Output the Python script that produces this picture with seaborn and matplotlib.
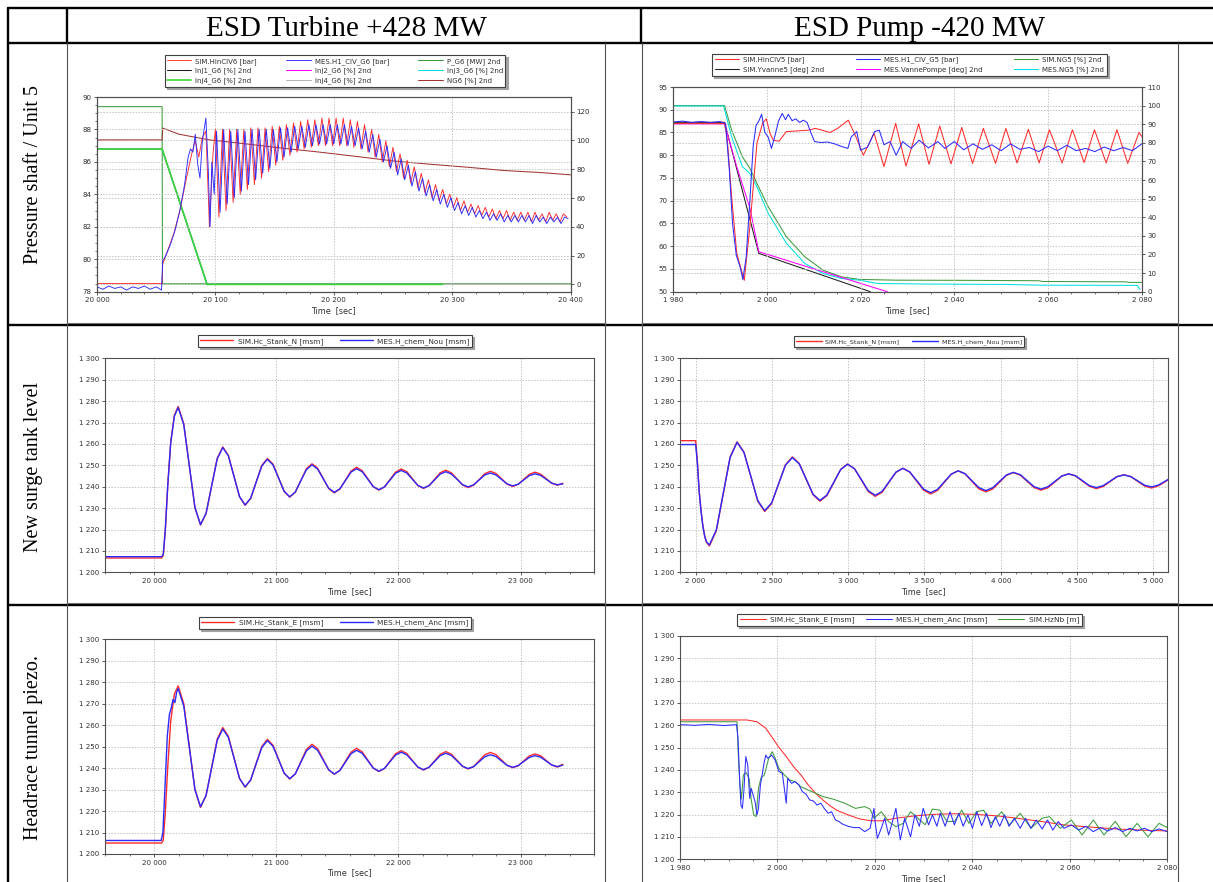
import numpy as np
import matplotlib
matplotlib.use("Agg")
import matplotlib.pyplot as plt
import seaborn as sns
from matplotlib.lines import Line2D
from matplotlib.ticker import FuncFormatter, MultipleLocator

# ---------------- data ----------------

# ESD turbine +428 MW, pressure shaft (left axis [bar], right axis "2nd")
turb_hin_sim_head = [(20000, 78.5), (20055, 78.5), (20055.5, 79.7), (20060, 80.6), (20065, 81.6),
                     (20070, 83.0), (20075, 84.8), (20080, 86.5), (20083, 87.3), (20086, 86.3),
                     (20089, 87.5), (20092, 87.9), (20095, 82.0), (20098, 86.5)]
# peaks / troughs every 3 s from 20100 s
turb_hin_sim_osc = [88.0, 82.6, 88.0, 83.0, 88.0, 83.5, 88.0, 84.0, 88.0, 84.3,
                    88.1, 84.6, 88.1, 85.0, 88.1, 85.4, 88.2, 85.8, 88.2, 86.1,
                    88.3, 86.4, 88.4, 86.6, 88.5, 86.8, 88.6, 86.9, 88.6, 87.0,
                    88.7, 87.0, 88.7, 87.0, 88.7, 87.0, 88.7, 87.0, 88.6, 86.9,
                    88.5, 86.8, 88.3, 86.6, 88.0, 86.3, 87.7, 86.0, 87.3, 85.7,
                    86.9, 85.4, 86.5, 85.0, 86.1, 84.7, 85.7, 84.4, 85.3, 84.1,
                    84.9, 83.8, 84.6, 83.6, 84.3, 83.4, 84.0, 83.2, 83.8, 83.0,
                    83.6, 82.9, 83.4, 82.8, 83.3, 82.7, 83.2, 82.6, 83.1, 82.5,
                    83.0, 82.5, 83.0, 82.4, 82.9, 82.4, 82.9, 82.4, 82.9, 82.3,
                    82.9, 82.4, 82.8, 82.3, 82.9, 82.4, 82.8, 82.3, 82.8, 82.6]
turb_hin_mes_head = [(20000, 78.3), (20005, 78.15), (20010, 78.35), (20015, 78.2), (20020, 78.3),
                     (20025, 78.1), (20030, 78.3), (20035, 78.2), (20040, 78.35), (20045, 78.15),
                     (20050, 78.3), (20054.5, 78.1), (20055.5, 79.9), (20058, 80.2), (20062, 80.9),
                     (20066, 81.8), (20070, 83.0), (20074, 84.6), (20077, 86.3), (20079, 86.8),
                     (20081, 86.6), (20083, 87.7), (20085, 85.9), (20087, 85.0), (20089, 87.3),
                     (20092, 88.7), (20094, 85.5), (20095.5, 82.0), (20097, 86.0), (20099, 84.0)]
# peaks / troughs every 3 s from 20101 s
turb_hin_mes_osc = [87.9, 82.9, 88.0, 83.4, 87.9, 83.8, 88.0, 84.2, 87.9, 84.6,
                    88.0, 84.9, 88.0, 85.3, 88.0, 85.6, 88.0, 86.0, 88.1, 86.3,
                    88.1, 86.6, 88.2, 86.8, 88.2, 86.9, 88.3, 87.0, 88.3, 87.1,
                    88.3, 87.1, 88.3, 87.1, 88.3, 87.1, 88.3, 87.0, 88.2, 87.0,
                    88.1, 86.8, 87.9, 86.6, 87.7, 86.3, 87.4, 86.0, 87.0, 85.6,
                    86.6, 85.2, 86.2, 84.9, 85.8, 84.5, 85.4, 84.2, 85.0, 83.9,
                    84.6, 83.6, 84.3, 83.4, 84.0, 83.2, 83.8, 83.0, 83.5, 82.8,
                    83.3, 82.7, 83.2, 82.6, 83.0, 82.5, 82.9, 82.4, 82.8, 82.4,
                    82.8, 82.3, 82.7, 82.3, 82.7, 82.3, 82.7, 82.3, 82.7, 82.2,
                    82.7, 82.3, 82.6, 82.2, 82.6, 82.3, 82.6, 82.2, 82.6, 82.5]
turb_pg6 = [(20000, 123.5), (20055, 123.5), (20055.3, 0.4), (20400, 0.4)]
turb_inj = [(20000, 94.0), (20055, 94.0), (20093, 0.0), (20292, 0.0)]
turb_inj4_gray = [(20000, 94.0), (20055, 94.0), (20093, 0.0), (20400, 0.0)]
turb_ng6 = [(20000, 100.4), (20055, 100.4), (20055.5, 108.6), (20069, 104.4), (20094, 100.5),
            (20125, 97.7), (20156, 94.7), (20188, 91.9), (20219, 88.9), (20250, 85.8),
            (20281, 83.5), (20313, 81.4), (20344, 79.1), (20375, 77.7), (20400, 76.1)]

# ESD pump -420 MW, pressure shaft
pump_hin_sim = [(1980, 87.0), (1991.0, 87.0), (1991.6, 83.3), (1992.5, 70.9), (1993.6, 58.4),
                (1995.2, 52.5), (1996.4, 64.3), (1997.9, 82.6), (1999.1, 87.0), (1999.9, 88.0),
                (2000.7, 84.8), (2001.4, 83.3), (2002.6, 83.1), (2004.2, 85.2), (2005.8, 85.3),
                (2008.8, 85.5), (2010.4, 85.9), (2013.5, 85.0), (2015.1, 85.9), (2017.4, 87.7),
                (2019.0, 84.1), (2020.6, 80.0), (2022.9, 84.8), (2025.0, 77.5), (2027.5, 87.0),
                (2029.7, 77.6), (2032.4, 86.9), (2034.6, 78.0), (2036.9, 86.4), (2039.3, 78.1),
                (2041.6, 86.1), (2043.9, 78.2), (2046.2, 85.9), (2048.8, 78.2), (2051.0, 85.9),
                (2053.4, 78.3), (2055.8, 85.7), (2058.1, 78.3), (2060.3, 85.6), (2063.0, 78.3),
                (2065.2, 85.6), (2067.7, 78.4), (2069.9, 85.6), (2072.4, 78.3), (2074.7, 85.6),
                (2077.0, 78.2), (2079.4, 85.0), (2080.0, 84.1)]
pump_hin_mes = [(1980, 87.3), (1982, 87.5), (1984, 87.2), (1986, 87.4), (1988, 87.2), (1990, 87.4),
                (1991.2, 87.0), (1992.0, 77.0), (1992.7, 65.0), (1993.5, 58.0), (1994.3, 55.5),
                (1994.9, 52.7), (1995.6, 57.5), (1996.4, 70.0), (1997.1, 82.0), (1997.7, 86.5),
                (1998.3, 87.5), (1998.9, 89.0), (1999.6, 85.0), (2000.3, 84.0), (2001.0, 81.5),
                (2001.8, 84.5), (2002.5, 87.5), (2003.3, 89.2), (2004.0, 87.8), (2004.6, 89.0),
                (2005.4, 87.6), (2006.2, 88.0), (2007.0, 87.2), (2007.8, 87.7), (2008.6, 87.2),
                (2009.4, 85.0), (2010.2, 83.0), (2011.5, 82.8), (2013.0, 82.9), (2014.5, 82.5),
                (2016.0, 81.9), (2017.3, 81.5), (2018.0, 84.0), (2019.2, 85.2), (2020.0, 81.1),
                (2021.5, 81.8), (2023.0, 85.2), (2024.0, 85.5), (2025.0, 82.3), (2026.3, 83.0),
                (2027.6, 80.0), (2029.0, 83.0), (2030.8, 81.5), (2032.5, 83.3), (2034.5, 81.6),
                (2036.5, 83.0), (2038.0, 81.5), (2040.0, 83.0), (2042.0, 81.2), (2044.0, 82.5),
                (2046.0, 81.3), (2048.0, 82.3), (2050.0, 81.0), (2052.0, 82.5), (2054.0, 81.3),
                (2056.0, 81.7), (2058.0, 80.8), (2060.0, 82.0), (2062.0, 81.0), (2064.0, 82.2),
                (2066.0, 81.0), (2068.0, 81.5), (2070.0, 80.8), (2072.0, 81.8), (2074.0, 81.0),
                (2076.0, 81.7), (2078.0, 81.0), (2080.0, 82.5)]
pump_ng_sim = [(1980, 100.0), (1991.0, 100.0), (1992.5, 86.9), (1994.8, 72.5), (1996.4, 66.3),
               (1997.9, 58.2), (2000.3, 45.7), (2004.2, 29.5), (2008.1, 18.8), (2012.0, 11.6),
               (2015.9, 8.0), (2019.8, 6.6), (2027.5, 6.2), (2043.1, 6.1), (2058.0, 5.9),
               (2058.8, 5.5), (2076.6, 5.3), (2077.4, 5.0), (2080.0, 5.0)]
pump_ng_mes = [(1980, 99.8), (1990.8, 99.8), (1992.5, 83.3), (1994.8, 67.2), (1996.4, 63.6),
               (1997.9, 56.4), (2000.3, 42.1), (2004.2, 26.0), (2008.1, 15.2), (2012.0, 9.8),
               (2015.9, 7.1), (2019.8, 6.2), (2023.7, 4.4), (2035.3, 4.1), (2050.9, 3.9),
               (2058.6, 3.5), (2079.0, 3.4), (2079.6, 1.2)]
pump_yvanne = [(1980, 91.0), (1991.0, 91.0), (1998.3, 20.6), (2022.1, 0.0)]
pump_vanne_mes = [(1980, 90.2), (1991.0, 90.2), (1993.5, 68.0), (1996.4, 45.0), (1998.3, 21.5),
                  (2025.7, 0.0)]

# New surge tank level, turbine case (osc. samples every 45.625 s from 20197 s)
stank_n_turb_sim_head = [(19598, 1206.7), (20062, 1206.7), (20075, 1208.0), (20091, 1219.0),
                         (20112, 1241.0), (20136, 1261.0), (20166, 1273.5)]
stank_n_turb_mes_head = [(19598, 1207.3), (20062, 1207.3), (20075, 1208.5), (20091, 1219.5),
                         (20112, 1241.0), (20136, 1260.5), (20166, 1273.0)]
stank_n_turb_sim = [1277.5, 1269.4, 1249.8, 1230.2, 1222.1, 1227.4, 1240.4, 1253.3,
                    1258.6, 1254.6, 1245.0, 1235.3, 1231.3, 1234.5, 1242.3, 1250.0,
                    1253.2, 1250.6, 1244.2, 1237.8, 1235.1, 1237.4, 1242.9, 1248.4,
                    1250.7, 1248.7, 1243.9, 1239.1, 1237.1, 1238.9, 1243.1, 1247.3,
                    1249.1, 1247.5, 1243.8, 1240.0, 1238.4, 1239.9, 1243.4, 1246.8,
                    1248.3, 1247.0, 1243.8, 1240.5, 1239.2, 1240.5, 1243.5, 1246.5,
                    1247.7, 1246.5, 1243.7, 1240.8, 1239.6, 1240.7, 1243.4, 1246.1,
                    1247.2, 1246.2, 1243.7, 1241.2, 1240.1, 1241.1, 1243.5, 1245.8,
                    1246.8, 1245.9, 1243.8, 1241.6, 1240.7, 1241.6]
stank_n_turb_mes = [1277.0, 1269.0, 1249.7, 1230.4, 1222.3, 1227.6, 1240.3, 1253.0,
                    1258.3, 1254.4, 1244.9, 1235.4, 1231.5, 1234.6, 1242.2, 1249.7,
                    1252.8, 1250.2, 1244.1, 1237.9, 1235.3, 1237.5, 1242.8, 1248.0,
                    1250.2, 1248.3, 1243.8, 1239.3, 1237.4, 1239.0, 1242.9, 1246.8,
                    1248.4, 1247.0, 1243.5, 1240.0, 1238.6, 1239.9, 1243.1, 1246.3,
                    1247.6, 1246.4, 1243.5, 1240.6, 1239.4, 1240.5, 1243.2, 1245.9,
                    1247.0, 1245.9, 1243.5, 1241.0, 1239.9, 1240.9, 1243.2, 1245.5,
                    1246.4, 1245.5, 1243.4, 1241.3, 1240.4, 1241.2, 1243.2, 1245.2,
                    1246.0, 1245.3, 1243.5, 1241.7, 1240.9, 1241.3]

# New surge tank level, pump case (osc. samples every 45.27 s from 2091 s)
stank_n_pump_sim_head = [(1895, 1261.5), (2001, 1261.5), (2012, 1252.0), (2024, 1238.0),
                         (2036, 1229.0), (2048, 1222.0), (2060, 1217.0), (2072, 1214.0)]
stank_n_pump_mes_head = [(1895, 1259.7), (2001, 1259.7), (2012, 1251.0), (2024, 1237.5),
                         (2036, 1228.5), (2048, 1221.5), (2060, 1216.8), (2072, 1214.2)]
stank_n_pump_sim = [1212.3, 1219.4, 1236.7, 1253.9, 1261.0, 1256.2, 1244.7, 1233.2,
                    1228.4, 1232.1, 1241.2, 1250.2, 1253.9, 1250.9, 1243.6, 1236.2,
                    1233.2, 1235.8, 1241.9, 1248.1, 1250.6, 1248.4, 1243.1, 1237.7,
                    1235.5, 1237.4, 1242.1, 1246.7, 1248.6, 1246.8, 1242.6, 1238.4,
                    1236.6, 1238.2, 1242.0, 1245.8, 1247.4, 1246.0, 1242.5, 1239.0,
                    1237.6, 1238.9, 1242.1, 1245.3, 1246.6, 1245.4, 1242.5, 1239.6,
                    1238.4, 1239.5, 1242.2, 1244.9, 1246.0, 1245.0, 1242.6, 1240.2,
                    1239.1, 1240.1, 1242.4, 1244.7, 1245.6, 1244.7, 1242.5, 1240.3,
                    1239.4, 1240.4, 1242.4, 1244.6]
stank_n_pump_mes = [1212.8, 1219.8, 1236.8, 1253.7, 1260.7, 1256.0, 1244.8, 1233.5,
                    1228.8, 1232.4, 1241.2, 1250.0, 1253.6, 1250.7, 1243.6, 1236.5,
                    1233.6, 1236.1, 1242.1, 1248.0, 1250.5, 1248.4, 1243.3, 1238.1,
                    1236.0, 1237.8, 1242.3, 1246.8, 1248.6, 1246.9, 1242.9, 1238.9,
                    1237.2, 1238.7, 1242.3, 1245.9, 1247.4, 1246.1, 1242.8, 1239.6,
                    1238.2, 1239.5, 1242.5, 1245.5, 1246.7, 1245.6, 1242.8, 1240.0,
                    1238.9, 1240.0, 1242.5, 1245.0, 1246.0, 1245.1, 1242.8, 1240.5,
                    1239.6, 1240.5, 1242.6, 1244.7, 1245.5, 1244.7, 1242.7, 1240.7,
                    1239.9, 1240.8, 1242.6, 1244.6]

# Headrace tunnel piezo, turbine case (osc. samples every 45.625 s from 20197 s)
stank_e_turb_sim_head = [(19598, 1205.1), (20062, 1205.1), (20075, 1206.5), (20091, 1219.0),
                         (20112, 1241.0), (20136, 1262.0), (20166, 1274.5)]
chem_anc_turb_head = [(19598, 1206.3), (20058, 1206.3), (20072, 1210.0), (20088, 1230.0),
                      (20108, 1255.0), (20125, 1265.0), (20140, 1268.0), (20155, 1272.0),
                      (20170, 1270.5), (20185, 1275.5)]
stank_e_turb_sim = [1278.3, 1270.0, 1250.0, 1230.0, 1221.7, 1227.2, 1240.3, 1253.5,
                    1258.9, 1254.8, 1245.0, 1235.2, 1231.1, 1234.4, 1242.3, 1250.1,
                    1253.4, 1250.7, 1244.2, 1237.6, 1234.9, 1237.3, 1243.0, 1248.7,
                    1251.1, 1249.1, 1244.1, 1239.2, 1237.1, 1238.9, 1243.2, 1247.4,
                    1249.2, 1247.6, 1243.8, 1240.0, 1238.4, 1239.8, 1243.3, 1246.7,
                    1248.1, 1246.8, 1243.6, 1240.4, 1239.1, 1240.4, 1243.4, 1246.4,
                    1247.7, 1246.5, 1243.7, 1240.8, 1239.6, 1240.7, 1243.5, 1246.2,
                    1247.3, 1246.3, 1243.8, 1241.3, 1240.2, 1241.1, 1243.4, 1245.7,
                    1246.6, 1245.8, 1243.6, 1241.4, 1240.5, 1241.8]
chem_anc_turb = [1277.0, 1268.9, 1249.5, 1230.1, 1222.0, 1227.3, 1240.1, 1252.9,
                 1258.2, 1254.3, 1244.8, 1235.2, 1231.3, 1234.5, 1242.1, 1249.6,
                 1252.8, 1250.2, 1244.0, 1237.7, 1235.1, 1237.3, 1242.7, 1248.0,
                 1250.2, 1248.3, 1243.8, 1239.2, 1237.3, 1238.9, 1242.8, 1246.7,
                 1248.3, 1246.9, 1243.5, 1240.0, 1238.6, 1239.9, 1243.0, 1246.1,
                 1247.4, 1246.2, 1243.4, 1240.5, 1239.3, 1240.4, 1243.1, 1245.8,
                 1246.9, 1245.9, 1243.4, 1240.9, 1239.8, 1240.7, 1243.0, 1245.3,
                 1246.2, 1245.4, 1243.3, 1241.3, 1240.4, 1241.2, 1243.1, 1245.0,
                 1245.8, 1245.1, 1243.3, 1241.5, 1240.7, 1241.4]

# Headrace tunnel piezo, pump case
stank_e_pump_sim = [(1980, 1262.4), (1993.7, 1262.4), (1995.8, 1261.6), (1997.6, 1258.7),
                    (1998.8, 1254.9), (2000.2, 1250.4), (2001.8, 1246.0), (2003.3, 1241.5),
                    (2004.8, 1237.8), (2006.3, 1233.3), (2007.8, 1229.6), (2009.3, 1226.6),
                    (2010.8, 1223.9), (2012.3, 1221.8), (2014.5, 1219.9), (2016.8, 1218.1),
                    (2019.0, 1217.3), (2021.3, 1217.2), (2024.3, 1218.4), (2028.0, 1219.4),
                    (2031.8, 1220.1), (2036.3, 1220.4), (2040.8, 1220.1), (2045.3, 1219.4),
                    (2049.8, 1218.2), (2054.3, 1216.9), (2058.8, 1215.4), (2063.3, 1214.6),
                    (2069.3, 1213.6), (2075.3, 1213.0), (2080.0, 1212.7)]
chem_anc_pump = [(1980, 1260.3), (1983, 1260.0), (1986, 1260.4), (1989, 1259.9), (1991.6, 1260.3),
                 (1991.9, 1254.2), (1992.2, 1237.8), (1992.5, 1224.3), (1992.8, 1222.8),
                 (1993.1, 1230.3), (1993.5, 1246.0), (1993.9, 1242.2), (1994.3, 1227.3),
                 (1994.6, 1231.8), (1995.0, 1228.8), (1995.4, 1225.8), (1995.8, 1219.9),
                 (1996.1, 1222.8), (1996.5, 1233.3), (1996.9, 1238.5), (1997.3, 1243.7),
                 (1997.6, 1246.7), (1998.0, 1245.2), (1998.8, 1246.7), (1999.5, 1244.5),
                 (2000.3, 1239.3), (2001.0, 1238.5), (2001.8, 1225.1), (2002.1, 1236.3),
                 (2002.9, 1234.0), (2003.6, 1234.8), (2004.4, 1233.3), (2005.1, 1230.3),
                 (2005.9, 1229.1), (2006.6, 1226.6), (2007.4, 1226.1), (2008.1, 1224.3),
                 (2008.9, 1225.1), (2009.6, 1222.8), (2010.4, 1220.6), (2011.1, 1221.3),
                 (2011.9, 1217.6), (2012.6, 1216.9), (2013.4, 1215.7), (2014.5, 1214.8),
                 (2015.6, 1214.2), (2016.8, 1214.2), (2017.9, 1212.4), (2019.0, 1213.9),
                 (2019.8, 1222.8), (2020.1, 1215.4), (2020.5, 1209.4), (2021.3, 1213.9),
                 (2022.0, 1218.4), (2022.8, 1210.9), (2023.5, 1216.1), (2024.3, 1222.8),
                 (2025.2, 1208.7), (2026.1, 1218.4), (2027.3, 1210.1), (2028.2, 1219.9),
                 (2029.1, 1214.8), (2029.9, 1222.8), (2031.0, 1215.4), (2031.8, 1219.9),
                 (2032.7, 1214.8), (2033.4, 1220.6), (2034.4, 1214.8), (2035.4, 1221.3),
                 (2036.3, 1215.4), (2037.2, 1220.6), (2038.1, 1214.8), (2039.1, 1219.9),
                 (2040.0, 1213.9), (2040.9, 1221.3), (2041.9, 1215.1), (2042.9, 1220.6),
                 (2043.8, 1214.2), (2044.7, 1219.1), (2045.6, 1214.8), (2046.6, 1219.9),
                 (2047.5, 1214.8), (2048.6, 1218.4), (2049.8, 1213.9), (2050.9, 1218.4),
                 (2052.0, 1213.9), (2053.1, 1217.6), (2054.3, 1213.6), (2055.4, 1217.6),
                 (2056.5, 1213.1), (2057.6, 1216.9), (2058.8, 1213.9), (2060.3, 1215.4),
                 (2061.8, 1213.1), (2063.3, 1214.8), (2064.8, 1212.4), (2066.3, 1214.2),
                 (2067.8, 1212.7), (2069.3, 1214.2), (2070.8, 1212.4), (2072.3, 1213.9),
                 (2073.8, 1212.7), (2075.3, 1213.9), (2076.8, 1212.4), (2078.3, 1213.6),
                 (2080.0, 1212.4)]
hznb_pump_sim = [(1980, 1261.6), (1991.7, 1261.6), (1992.0, 1245.0), (1992.3, 1233.0),
                 (1992.6, 1227.0), (1993.0, 1237.8), (1993.6, 1238.8), (1994.2, 1236.0),
                 (1994.6, 1227.0), (1995.1, 1220.0), (1995.6, 1219.1), (1996.1, 1231.8),
                 (1996.6, 1236.3), (1997.3, 1237.8), (1998.2, 1245.2), (1998.9, 1248.2),
                 (1999.5, 1245.5), (2000.3, 1240.7), (2001.4, 1237.8), (2002.5, 1235.5),
                 (2003.6, 1234.8), (2004.8, 1232.5), (2006.3, 1231.0), (2007.8, 1229.6),
                 (2009.3, 1228.1), (2011.5, 1226.9), (2013.8, 1225.1), (2016.0, 1222.8),
                 (2017.9, 1223.6), (2019.0, 1222.5), (2019.8, 1218.4), (2021.3, 1221.3),
                 (2022.8, 1216.9), (2024.3, 1214.6), (2025.8, 1216.1), (2027.3, 1221.3),
                 (2028.8, 1218.4), (2030.3, 1215.5), (2031.8, 1222.5), (2033.3, 1222.0),
                 (2034.8, 1216.9), (2036.3, 1216.9), (2037.8, 1222.0), (2039.3, 1216.1),
                 (2040.8, 1221.3), (2042.3, 1222.0), (2043.8, 1216.1), (2046.0, 1221.3),
                 (2047.6, 1215.4), (2049.8, 1220.6), (2052.0, 1213.9), (2054.3, 1218.4),
                 (2055.8, 1219.1), (2058.0, 1213.9), (2060.3, 1217.6), (2062.5, 1210.9),
                 (2064.8, 1217.6), (2067.0, 1210.9), (2069.3, 1217.0), (2071.5, 1210.1),
                 (2073.8, 1216.1), (2076.0, 1210.1), (2078.3, 1216.1), (2080.0, 1214.2)]

# ---------------- figure ----------------
sns.set_theme(style="white")
plt.rcParams["font.family"] = ["DejaVu Sans"]

W, H = 1213, 882
fig = plt.figure(figsize=(W / 100, H / 100), dpi=100)
fig.patch.set_facecolor("white")

RED, BLUE = "#ff2b2b", "#2b2bff"
GREEN, LGREEN = "#3d9b3d", "#38d838"
CYAN, MAGENTA, BLACK, GRAY, BROWN = "#00e0e0", "#ff00ff", "#1e1e1e", "#b4b4b4", "#a43434"
TXT = "#303030"
GRID = dict(color="#c4c4c4", linestyle=(0, (1.5, 1.5)), linewidth=0.7)


def box(x0, y0, x1, y1):
    return [x0 / W, 1 - y1 / H, (x1 - x0) / W, (y1 - y0) / H]


def spaced(v, pos):
    return f"{v:,.0f}".replace(",", " ")


def draw(ax, pts, color, label, lw=0.75):
    arr = np.asarray(pts, dtype=float)
    sns.lineplot(x=arr[:, 0], y=arr[:, 1], ax=ax, color=color, lw=lw, label=label,
                 legend=False, sort=False, estimator=None)
    return ax.lines[-1]


def joined(head, osc, t0, step):
    t = t0 + step * np.arange(len(osc))
    return list(head) + list(zip(t, osc))


def style(ax, xlim, xstep, xminor, ylim, ystep, yminor=None):
    ax.set_xlim(*xlim)
    ax.set_ylim(*ylim)
    ax.xaxis.set_major_locator(MultipleLocator(xstep))
    ax.xaxis.set_minor_locator(MultipleLocator(xminor))
    ax.yaxis.set_major_locator(MultipleLocator(ystep))
    if yminor:
        ax.yaxis.set_minor_locator(MultipleLocator(yminor))
    ax.xaxis.set_major_formatter(FuncFormatter(spaced))
    ax.yaxis.set_major_formatter(FuncFormatter(spaced))
    ax.grid(True, which="major", **GRID)
    ax.tick_params(which="major", labelsize=5.1, labelcolor=TXT, color="#404040",
                   length=2.5, width=0.6, pad=1.5, bottom=True, left=True)
    ax.tick_params(which="minor", color="#404040", length=1.5, width=0.5, bottom=True, left=True)
    for s in ax.spines.values():
        s.set_color("#505050")
        s.set_linewidth(0.8)
    ax.set_xlabel("Time  [sec]", fontsize=5.8, color=TXT, labelpad=2)
    ax.set_ylabel("")


def right_axis(ax, ylim, ystep):
    ax2 = ax.twinx()
    ax.set_zorder(ax2.get_zorder() + 1)
    ax.patch.set_visible(False)
    ax2.set_ylim(*ylim)
    ax2.yaxis.set_major_locator(MultipleLocator(ystep))
    ax2.grid(True, axis="y", **GRID)
    ax2.grid(False, axis="x")
    ax2.tick_params(labelsize=5.1, labelcolor=TXT, color="#404040", length=2.5, width=0.6,
                    pad=1.5, right=True)
    for s in ax2.spines.values():
        s.set_color("#505050")
        s.set_linewidth(0.8)
    ax2.set_ylabel("")
    return ax2


def legend(ax, handles, ncol, cx, bottom, fs, hl, cs, ls=0.25):
    leg = ax.legend(handles, [h.get_label() for h in handles], ncol=ncol, loc="lower center",
                    bbox_to_anchor=(cx / W, 1 - bottom / H), bbox_transform=fig.transFigure,
                    fontsize=fs, labelcolor=TXT, frameon=True, fancybox=False, framealpha=1,
                    shadow={"ox": 1.5, "oy": -1.5, "color": "#9c9c9c", "alpha": 0.9},
                    borderpad=0.35, labelspacing=ls, handlelength=hl, handletextpad=0.6,
                    columnspacing=cs, borderaxespad=0)
    leg.get_frame().set_edgecolor("#404040")
    leg.get_frame().set_linewidth(0.8)


# ---- top left: ESD turbine, pressure shaft ----
ax = fig.add_axes(box(97, 97, 570.5, 291.7))
ax2 = right_axis(ax, (-5.1, 130.2), 20)
h_pg6 = draw(ax2, turb_pg6, GREEN, "P_G6 [MW] 2nd")
h_inj1 = draw(ax2, turb_inj, BLACK, "Inj1_G6 [%] 2nd")
h_inj2 = draw(ax2, turb_inj, MAGENTA, "Inj2_G6 [%] 2nd")
h_inj3 = draw(ax2, turb_inj, CYAN, "Inj3_G6 [%] 2nd")
h_inj4b = draw(ax2, turb_inj4_gray, GRAY, "Inj4_G6 [%] 2nd")
h_inj4 = draw(ax2, turb_inj, LGREEN, "Inj4_G6 [%] 2nd", lw=1.2)
h_ng6 = draw(ax2, turb_ng6, BROWN, "NG6 [%] 2nd")
h_sim = draw(ax, joined(turb_hin_sim_head, turb_hin_sim_osc, 20100, 3), RED, "SIM.HinCIV6 [bar]", lw=0.65)
h_mes = draw(ax, joined(turb_hin_mes_head, turb_hin_mes_osc, 20101, 3), BLUE, "MES.H1_CIV_G6 [bar]", lw=0.65)
style(ax, (20000, 20400), 100, 20, (78, 90), 2, 0.5)
legend(ax, [h_sim, h_inj1, h_inj4, h_mes, h_inj2, h_inj4b, h_pg6, h_inj3, h_ng6],
       3, 335, 86.7, 5.0, 3.5, 4.2, ls=0.45)

# ---- top right: ESD pump, pressure shaft ----
ax = fig.add_axes(box(673, 87, 1141.8, 291.7))
ax2 = right_axis(ax, (0, 110), 10)
h_ngs = draw(ax2, pump_ng_sim, GREEN, "SIM.NG5 [%] 2nd")
h_ngm = draw(ax2, pump_ng_mes, CYAN, "MES.NG5 [%] 2nd")
h_yv = draw(ax2, pump_yvanne, BLACK, "SIM.Yvanne5 [deg] 2nd")
h_vp = draw(ax2, pump_vanne_mes, MAGENTA, "MES.VannePompe [deg] 2nd")
h_sim = draw(ax, pump_hin_sim, RED, "SIM.HinCIV5 [bar]")
h_mes = draw(ax, pump_hin_mes, BLUE, "MES.H1_CIV_G5 [bar]")
style(ax, (1980, 2080), 20, 5, (50, 95), 5)
legend(ax, [h_sim, h_yv, h_mes, h_vp, h_ngs, h_ngm], 3, 909.5, 75.7, 5.0, 3.5, 4.5, ls=0.45)

# ---- middle left: new surge tank, turbine ----
ax = fig.add_axes(box(105, 358.3, 594, 572.3))
h1 = draw(ax, joined(stank_n_turb_sim_head, stank_n_turb_sim, 20197, 45.625), RED,
          "SIM.Hc_Stank_N [msm]", lw=1.0)
h2 = draw(ax, joined(stank_n_turb_mes_head, stank_n_turb_mes, 20197, 45.625), BLUE,
          "MES.H_chem_Nou [msm]", lw=1.0)
style(ax, (19598, 23600), 1000, 200, (1200, 1300), 10)
legend(ax, [h1, h2], 2, 335, 347.3, 5.3, 4.5, 2.2)

# ---- middle right: new surge tank, pump ----
ax = fig.add_axes(box(679.5, 358.3, 1168, 572.3))
h1 = draw(ax, joined(stank_n_pump_sim_head, stank_n_pump_sim, 2091, 45.27), RED,
          "SIM.Hc_Stank_N [msm]", lw=1.0)
h2 = draw(ax, joined(stank_n_pump_mes_head, stank_n_pump_mes, 2091, 45.27), BLUE,
          "MES.H_chem_Nou [msm]", lw=1.0)
style(ax, (1895, 5096), 500, 100, (1200, 1300), 10)
legend(ax, [h1, h2], 2, 909, 347, 4.6, 4.0, 2.0)

# ---- bottom left: headrace tunnel, turbine ----
ax = fig.add_axes(box(105, 639.3, 594, 854))
h1 = draw(ax, joined(stank_e_turb_sim_head, stank_e_turb_sim, 20197, 45.625), RED,
          "SIM.Hc_Stank_E [msm]", lw=1.0)
h2 = draw(ax, joined(chem_anc_turb_head, chem_anc_turb, 20197, 45.625), BLUE,
          "MES.H_chem_Anc [msm]", lw=1.0)
style(ax, (19598, 23600), 1000, 200, (1200, 1300), 10)
legend(ax, [h1, h2], 2, 335, 629, 5.3, 4.5, 2.2)

# ---- bottom right: headrace tunnel, pump ----
ax = fig.add_axes(box(680, 636, 1167.4, 859.3))
h1 = draw(ax, stank_e_pump_sim, RED, "SIM.Hc_Stank_E [msm]")
h3 = draw(ax, hznb_pump_sim, GREEN, "SIM.HzNb [m]")
h2 = draw(ax, chem_anc_pump, BLUE, "MES.H_chem_Anc [msm]")
style(ax, (1980, 2080), 20, 5, (1200, 1300), 10)
legend(ax, [h1, h2, h3], 3, 909.6, 625.7, 5.3, 3.5, 1.5)


# ---------------- table frame ----------------
def seg(x0, y0, x1, y1, lw, c="black"):
    fig.add_artist(Line2D([x0 / W, x1 / W], [1 - y0 / H, 1 - y1 / H], color=c, lw=lw))


THICK, THIN = 1.7, 0.8
seg(8, 7.5, 1213, 7.5, THICK)
seg(8, 43, 1213, 43, THICK)
seg(8, 325, 1213, 325, THICK)
seg(8, 605, 1213, 605, THICK)
seg(8, 7.5, 8, 882, THICK)
seg(67, 7.5, 67, 43, THICK)
seg(641, 7.5, 641, 43, THICK)
for x in (67, 604.5, 641.5, 1178.4):
    seg(x, 43, x, 882, THIN, "#505050")
for y in (322.7, 602.5):
    seg(67, y, 604.5, y, THIN, "#707070")
    seg(641.5, y, 1178.4, y, THIN, "#707070")

serif = "Liberation Serif"
fig.text(346 / W, 1 - 35.5 / H, "ESD Turbine +428 MW", ha="center", va="baseline",
         fontsize=21, family=serif, color="black")
fig.text(920 / W, 1 - 35.5 / H, "ESD Pump -420 MW", ha="center", va="baseline",
         fontsize=21, family=serif, color="black")
for yc, txt in ((175, "Pressure shaft / Unit 5"), (467, "New surge tank level"),
                (748, "Headrace tunnel piezo.")):
    fig.text(34 / W, 1 - yc / H, txt, rotation=90, ha="center", va="center",
             fontsize=14.5, family=serif, color="black")

fig.savefig("out.png", dpi=100, facecolor="white")
